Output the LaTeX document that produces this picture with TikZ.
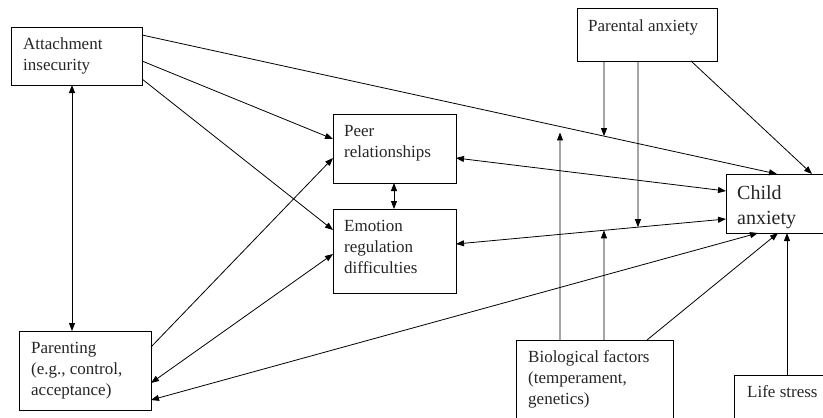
\documentclass[tikz,border=0pt]{standalone}
\usepackage{fontspec}
\setmainfont{Liberation Serif}
\usetikzlibrary{arrows.meta,calc}
\begin{document}
\begin{tikzpicture}[x=1pt,y=-1pt,
  box/.style={draw, line width=0.9pt, inner sep=0pt, outer sep=0pt, anchor=north west},
  txt/.style={anchor=north west, inner sep=0pt, align=left, text=black!85, font=\fontsize{17}{21}\selectfont},
  conn/.style={line width=0.8pt, -{Triangle[length=8pt,width=6pt]}},
  bconn/.style={line width=0.8pt, {Triangle[length=8pt,width=6pt]}-{Triangle[length=8pt,width=6pt]}}]

\useasboundingbox (0,0) rectangle (823,418);

% boxes
\node[box, minimum width=131pt, minimum height=58pt] (att) at (11,27) {};
\node[box, minimum width=123pt, minimum height=69pt] (peer) at (333,114) {};
\node[box, minimum width=123pt, minimum height=84pt] (emo) at (333,209) {};
\node[box, minimum width=132pt, minimum height=79pt] (par) at (19,331) {};
\node[box, minimum width=140pt, minimum height=53pt] (pan) at (577,8) {};
\node[box, minimum width=110pt, minimum height=59pt] (child) at (726,174) {};
\node[box, minimum width=157pt, minimum height=90pt] (bio) at (516,340) {};
\node[box, minimum width=100pt, minimum height=60pt] (life) at (734,375) {};

% texts
\node[txt] (attT) at ([xshift=12pt,yshift=-11pt]att.north west) {Attachment\\insecurity};
\node[txt] (peerT) at ([xshift=11pt,yshift=-11pt]peer.north west) {Peer\\relationships};
\node[txt] (emoT) at ([xshift=11pt,yshift=-11pt]emo.north west) {Emotion\\regulation\\difficulties};
\node[txt] (parT) at ([xshift=12pt,yshift=-11pt]par.north west) {Parenting\\(e.g., control,\\acceptance)};
\node[txt] (panT) at ([xshift=11pt,yshift=-12pt]pan.north west) {Parental anxiety};
\node[txt, font=\fontsize{20}{25}\selectfont] (childT) at ([xshift=11pt,yshift=-11pt]child.north west) {Child\\anxiety};
\node[txt] (bioT) at ([xshift=12pt,yshift=-10pt]bio.north west) {Biological factors\\(temperament,\\genetics)};
\node[txt] (lifeT) at ([xshift=13pt,yshift=-10pt]life.north west) {Life stress};

% connection points
\coordinate (a1) at ([yshift=-8pt]att.north east);
\coordinate (c1) at ([xshift=51pt]child.north west);
\coordinate (e2) at ([yshift=-35pt]emo.north east);
\coordinate (c2) at ([yshift=-45pt]child.north west);
\coordinate (p1) at ([xshift=27pt]pan.south west);
\coordinate (p1d) at ([yshift=-150pt]p1);
\coordinate (p2) at ([xshift=61pt]pan.south west);
\coordinate (p2d) at ([yshift=-250pt]p2);
\coordinate (b1) at ([xshift=44pt]bio.north west);
\coordinate (b1u) at ([yshift=300pt]b1);
\coordinate (b2) at ([xshift=88pt]bio.north west);
\coordinate (b2u) at ([yshift=200pt]b2);
\coordinate (m1) at (intersection of a1--c1 and p1--p1d);
\coordinate (m2) at (intersection of e2--c2 and p2--p2d);
\coordinate (m3i) at (intersection of a1--c1 and b1--b1u);
\coordinate (m3) at ([yshift=-6pt]m3i);
\coordinate (m4) at (intersection of e2--c2 and b2--b2u);

% connectors
\draw[conn] (a1) -- (c1);
\draw[conn] ([yshift=-34pt]att.north east) -- ([yshift=-25pt]peer.north west);
\draw[conn] ([yshift=-52pt]att.north east) -- ([yshift=-21pt]emo.north west);
\draw[bconn] ([xshift=61pt]att.south west) -- ([xshift=53pt]par.north west);
\draw[conn] ([yshift=-16pt]par.north east) -- ([yshift=-44pt]peer.north west);
\draw[bconn] ([yshift=-45pt]emo.north west) -- ([yshift=-52pt]par.north east);
\draw[bconn] ([yshift=-69pt]par.north east) -- ([xshift=32pt]child.south west);
\draw[bconn] ([xshift=61pt]peer.south west) -- ([xshift=61pt]emo.north west);
\draw[bconn] ([yshift=-44pt]peer.north east) -- ([yshift=-17pt]child.north west);
\draw[bconn] (e2) -- (c2);
\draw[conn] ([xshift=114pt]pan.south west) -- ([xshift=86pt]child.north west);
\draw[conn] (p1) -- (m1);
\draw[conn] (p2) -- (m2);
\draw[conn] (b1) -- (m3);
\draw[conn] (b2) -- (m4);
\draw[conn] ([xshift=131pt]bio.north west) -- ([xshift=52pt]child.south west);
\draw[conn] ([xshift=53pt]life.north west) -- ([xshift=61pt]child.south west);
\end{tikzpicture}
\end{document}
